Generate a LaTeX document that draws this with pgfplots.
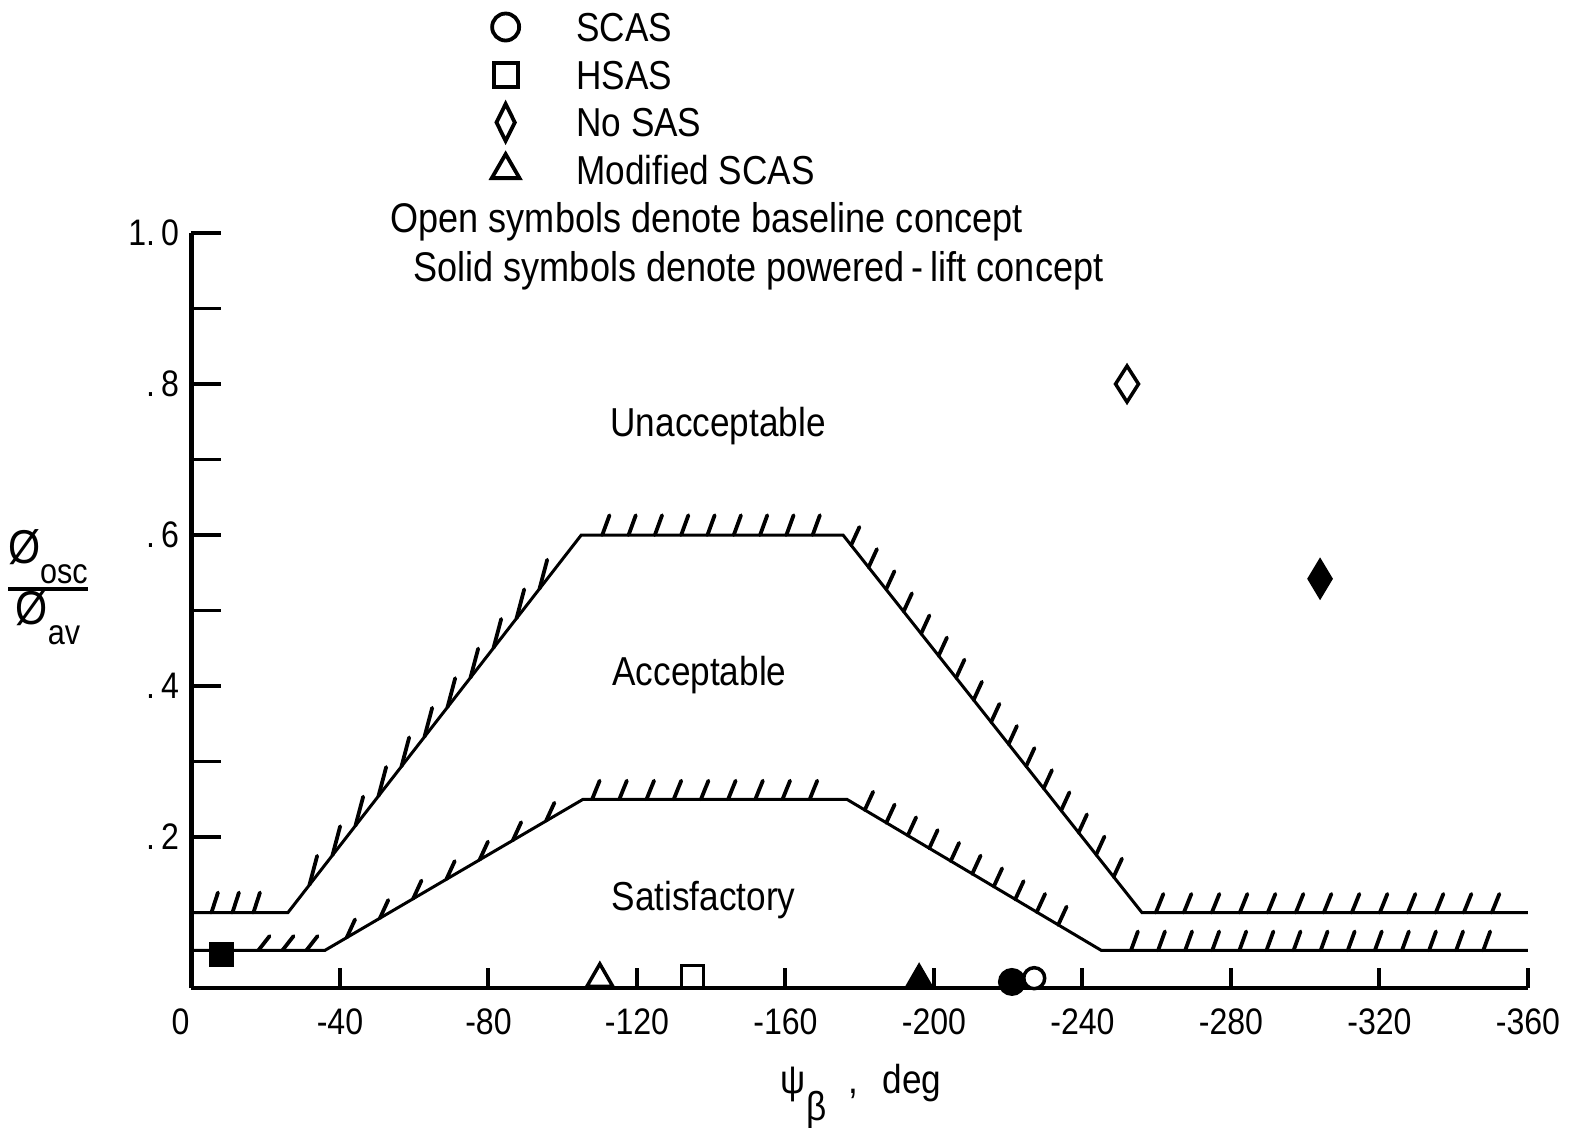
\documentclass[border=0pt]{standalone}
\usepackage{fontspec}
\setmainfont{Liberation Sans}[FakeStretch=0.87]
\usepackage{pgfplots}
\pgfplotsset{compat=1.18}
\usetikzlibrary{decorations.pathreplacing}

\newcommand\txt{\fontsize{11.5}{13.8}\selectfont}
\newcommand\note{\fontsize{11.8}{14}\selectfont}
\newcommand\tck{\fontsize{10.5}{12.6}\selectfont}
\newcommand\sub{\fontsize{10}{12}\selectfont}
\newcommand\phisym{{\fontsize{13.5}{16}\selectfont Ø}}

\pgfplotsset{
  bound/.style={black, line width=0.3mm, line join=miter, forget plot},
  % hatch marks on the upper side of one boundary segment:
  % #1 spacing, #2 hatch length, #3 angle to the segment, #4 lead-in, #5 run-out
  hatched/.style n args={5}{draw=none, forget plot,
    postaction={draw=black, line width=0.38mm, line cap=round, decorate,
      decoration={border, segment length=#1, amplitude=#2, angle=#3,
                  pre=moveto, pre length=#4, post=moveto, post length=#5}}},
  opn/.style={only marks, forget plot, black},
  sld/.style={only marks, forget plot, black},
}

\begin{document}
\begin{tikzpicture}
\useasboundingbox (-19.15mm,-14mm) rectangle (138.05mm,98.8mm);
\begin{axis}[
  scale only axis, width=133.65mm, height=75.5mm,
  at={(0,0)}, anchor=south west,
  x dir=reverse, xmin=-360, xmax=0, ymin=0, ymax=1,
  enlargelimits=false, clip=false,
  axis lines*=left,
  axis line style={line width=0.45mm},
  tick align=inside,
  xtick={0,-40,-80,-120,-160,-200,-240,-280,-320,-360},
  xticklabels={\hspace*{-2.2mm}0,-40,-80,-120,-160,-200,-240,-280,-320,-360},
  ytick={0.2,0.4,0.6,0.8,1.0},
  yticklabels={.\,2,.\,4,.\,6,.\,8,1.\,0},
  minor ytick={0.1,0.2,0.3,0.4,0.5,0.6,0.7,0.8,0.9,1.0},
  major tick length=2mm, minor tick length=3mm,
  every major x tick/.append style={line width=0.4mm, black},
  every major y tick/.append style={draw=none},
  every minor y tick/.append style={line width=0.35mm, black},
  ticklabel style={font=\tck},
  xticklabel style={yshift=-0.8mm},
  xlabel={ψ\raisebox{-2.7mm}{β}\hspace{0.55em},\hspace{0.6em}deg},
  every axis x label/.style={at={(axis description cs:0.501,0)}, anchor=base, yshift=-10.5mm, font=\txt},
  ylabel={\def\arraystretch{0.6}\setlength\arrayrulewidth{0.4mm}%
    \begin{tabular}{@{}c@{}}\phisym\raisebox{-2.0mm}{\sub osc}\\[1.5mm]\hline
    \rule{0pt}{3.3mm}\phisym\raisebox{-2.0mm}{\sub av}\end{tabular}},
  every axis y label/.style={at={(axis description cs:-0.1074,0.531)}, anchor=center, font=\txt},
  legend style={draw=none, fill=none, at={(axis description cs:0.2121,1.3013)}, anchor=north west,
    inner sep=0pt, outer sep=0pt, row sep=0.47mm, column sep=4mm, font=\txt,
    nodes={inner sep=0pt, outer sep=0pt, text height=3.6mm, text depth=0.7mm}},
  legend cell align=left,
  legend image code/.code={\path (-3mm,0mm) (3mm,0mm); \draw[#1] plot coordinates {(0mm,0mm)};},
]
% boundaries between the rating regions
\addplot[bound] coordinates {(0,0.1) (-26,0.1) (-105,0.6) (-175.5,0.6) (-256,0.1) (-360,0.1)};
\addplot[bound] coordinates {(0,0.05) (-36,0.05) (-105.5,0.25) (-176.5,0.25) (-245,0.05) (-360,0.05)};

% hatching, upper boundary
\addplot[hatched={2.1mm}{2.1mm}{72}{2.0mm}{0mm}]   coordinates {(0,0.1) (-26,0.1)};
\addplot[hatched={3.75mm}{3.0mm}{23}{3.5mm}{2.5mm}] coordinates {(-26,0.1) (-105,0.6)};
\addplot[hatched={2.63mm}{2.1mm}{70}{2.1mm}{0mm}]  coordinates {(-105,0.6) (-175.5,0.6)};
\addplot[hatched={2.82mm}{2.0mm}{117}{1.3mm}{0mm}] coordinates {(-175.5,0.6) (-256,0.1)};
\addplot[hatched={2.8mm}{2.0mm}{68}{1.4mm}{0mm}]   coordinates {(-256,0.1) (-360,0.1)};
% hatching, lower boundary
\addplot[hatched={2.4mm}{1.8mm}{52}{6.7mm}{0mm}]   coordinates {(0,0.05) (-36,0.05)};
\addplot[hatched={3.85mm}{2.0mm}{35}{2.5mm}{2.0mm}] coordinates {(-36,0.05) (-105.5,0.25)};
\addplot[hatched={2.72mm}{2.0mm}{68}{0.9mm}{0mm}]  coordinates {(-105.5,0.25) (-176.5,0.25)};
\addplot[hatched={2.5mm}{2.0mm}{96}{2.1mm}{1.5mm}] coordinates {(-176.5,0.25) (-245,0.05)};
\addplot[hatched={2.71mm}{2.0mm}{70}{3.0mm}{0mm}]  coordinates {(-245,0.05) (-360,0.05)};

% SCAS
\addplot[opn, mark=*, mark size=1.05mm, mark options={fill=white, line width=0.35mm}] coordinates {(-227,0.013)};
\addplot[sld, mark=*, mark size=1.3mm, mark options={fill=black, line width=0.2mm}] coordinates {(-221,0.008)};
% HSAS
\addplot[opn, mark=square*, mark size=1.1mm, mark options={fill=white, line width=0.35mm}] coordinates {(-135,0.015)};
\addplot[sld, mark=square*, mark size=1.15mm, mark options={fill=black, line width=0.2mm}] coordinates {(-8,0.044)};
% No SAS
\addplot[opn, mark=diamond*, mark size=1.8mm, mark options={fill=white, line width=0.35mm, xscale=0.85}] coordinates {(-252,0.80)};
\addplot[sld, mark=diamond*, mark size=1.95mm, mark options={fill=black, line width=0.2mm, xscale=0.8}] coordinates {(-304,0.542)};
% Modified SCAS
\addplot[opn, mark=triangle*, mark size=1.5mm, mark options={fill=white, line width=0.35mm}] coordinates {(-110,0.012)};
\addplot[sld, mark=triangle*, mark size=1.55mm, mark options={fill=black, line width=0.2mm}] coordinates {(-196,0.011)};

% key
\addlegendimage{black, mark=*, mark size=1.35mm, mark options={fill=white, line width=0.38mm}}
\addlegendentry{SCAS}
\addlegendimage{black, mark=square*, mark size=1.2mm, mark options={fill=white, line width=0.38mm}}
\addlegendentry{HSAS}
\addlegendimage{black, mark=diamond*, mark size=1.85mm, mark options={fill=white, line width=0.38mm, xscale=0.66}}
\addlegendentry{No SAS}
\addlegendimage{black, mark=triangle*, mark size=1.6mm, mark options={fill=white, line width=0.38mm}}
\addlegendentry{Modified SCAS}

\node[anchor=base west, inner sep=0pt, font=\note] at (axis description cs:0.1485,1.0007) {Open symbols denote baseline concept};
\node[anchor=base west, inner sep=0pt, font=\note] at (axis description cs:0.1657,0.9358) {Solid symbols denote powered\,-\,lift concept};

% region names
\node[anchor=base west, inner sep=0pt, font=\txt] at (axis cs:-112.7,0.731) {Unacceptable};
\node[anchor=base west, inner sep=0pt, font=\txt] at (axis cs:-113.2,0.401) {Acceptable};
\node[anchor=base west, inner sep=0pt, font=\txt] at (axis cs:-113.0,0.103) {Satisfactory};
\end{axis}
\end{tikzpicture}
\end{document}
